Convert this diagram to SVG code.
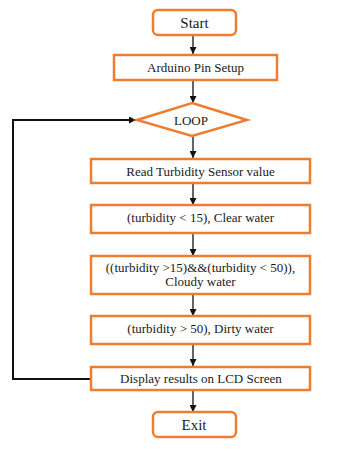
<svg xmlns="http://www.w3.org/2000/svg" width="362" height="454" viewBox="0 0 362 454">
  <style>
    .box { fill: #ffffff; stroke: #ED7D31; stroke-width: 2.5; }
    .lbl { font-family: "Liberation Serif", "Times New Roman", serif; font-size: 13px; fill: #1a1a1a; text-anchor: middle; }
    .term { font-size: 15px; }
    .wire { fill: none; stroke: #111111; stroke-width: 1.3; }
    .back { fill: none; stroke: #111111; stroke-width: 2; }
  </style>
  <defs>
    <marker id="arrow" viewBox="0 0 10 10" refX="10" refY="5" markerWidth="7" markerHeight="7" markerUnits="userSpaceOnUse" orient="auto">
      <path d="M0,0 L10,5 L0,10 Z" fill="#111111"/>
    </marker>
  </defs>
  <rect width="362" height="454" fill="#ffffff"/>

  <g id="connectors">
    <line class="wire" x1="193" y1="36" x2="193" y2="54" marker-end="url(#arrow)"/>
    <line class="wire" x1="193" y1="81" x2="193" y2="103" marker-end="url(#arrow)"/>
    <line class="wire" x1="193" y1="137" x2="193" y2="158" marker-end="url(#arrow)"/>
    <line class="wire" x1="193" y1="184" x2="193" y2="205" marker-end="url(#arrow)"/>
    <line class="wire" x1="193" y1="234" x2="193" y2="256" marker-end="url(#arrow)"/>
    <line class="wire" x1="193" y1="295" x2="193" y2="316" marker-end="url(#arrow)"/>
    <line class="wire" x1="193" y1="345" x2="193" y2="366" marker-end="url(#arrow)"/>
    <line class="wire" x1="193" y1="391" x2="193" y2="412" marker-end="url(#arrow)"/>
    <polyline class="back" points="91,379 13,379 13,120 136,120" marker-end="url(#arrow)"/>
  </g>

  <g id="start">
    <rect class="box" x="153" y="10" width="83" height="25" rx="5"/>
    <text class="lbl term" x="194.5" y="28">Start</text>
  </g>
  <g id="pin-setup">
    <rect class="box" x="114" y="55" width="163" height="25"/>
    <text class="lbl" x="195.5" y="72">Arduino Pin Setup</text>
  </g>
  <g id="loop">
    <polygon class="box" points="192,103 247,120 192,136 137,120"/>
    <text class="lbl" x="191" y="124.5">LOOP</text>
  </g>
  <g id="read-sensor">
    <rect class="box" x="91" y="159" width="219" height="24"/>
    <text class="lbl" x="200.5" y="175.5">Read Turbidity Sensor value</text>
  </g>
  <g id="clear">
    <rect class="box" x="91" y="205" width="219" height="28"/>
    <text class="lbl" x="200.5" y="222">(turbidity &lt; 15), Clear water</text>
  </g>
  <g id="cloudy">
    <rect class="box" x="91" y="256" width="219" height="38"/>
    <text class="lbl" x="200.5" y="272">((turbidity &gt;15)&amp;&amp;(turbidity &lt; 50)),</text>
    <text class="lbl" x="200.5" y="286">Cloudy water</text>
  </g>
  <g id="dirty">
    <rect class="box" x="91" y="316" width="219" height="28"/>
    <text class="lbl" x="200.5" y="333">(turbidity &gt; 50), Dirty water</text>
  </g>
  <g id="display">
    <rect class="box" x="91" y="367" width="219" height="23"/>
    <text class="lbl" x="201" y="383">Display results on LCD Screen</text>
  </g>
  <g id="exit">
    <rect class="box" x="153" y="412" width="83" height="25" rx="5"/>
    <text class="lbl term" x="194" y="430">Exit</text>
  </g>
</svg>
